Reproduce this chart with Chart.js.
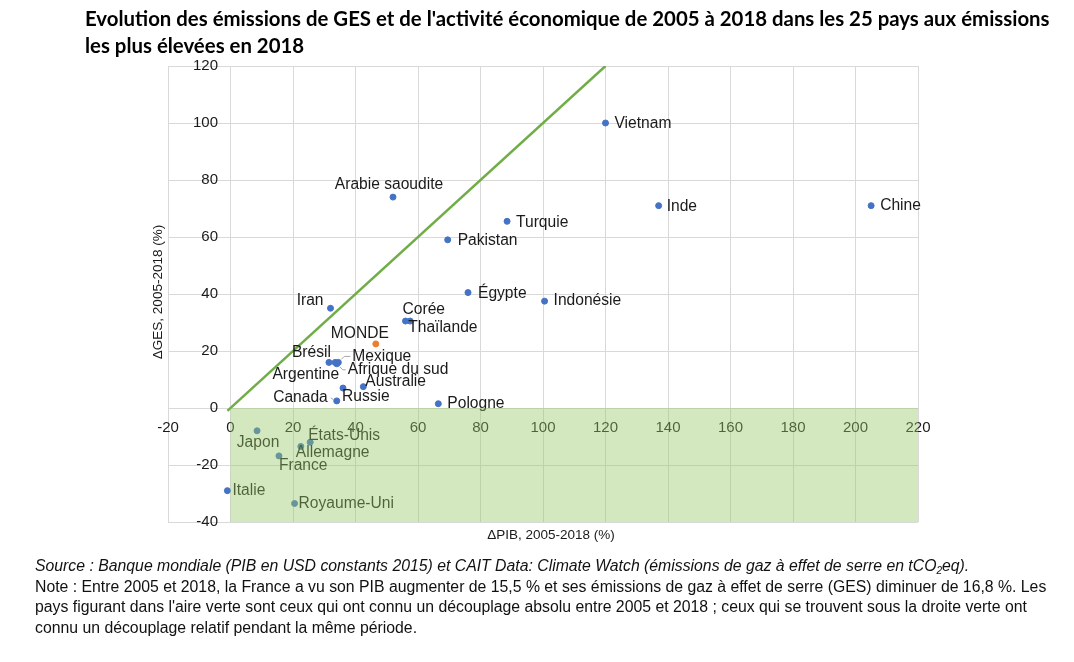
<!DOCTYPE html>
<html lang="fr">
<head>
<meta charset="utf-8">
<title>Emissions de GES et PIB 2005-2018</title>
<script src="https://cdn.jsdelivr.net/npm/chart.js@4.4.1/dist/chart.umd.min.js"></script>
<style>
  body { margin: 0; background: #fff; }
  #wrap { position: relative; width: 1074px; height: 662px; overflow: hidden; }
  #chart { position: absolute; left: 0; top: 0; }
  .title {
    position: absolute; left: 85px; top: 5px;
    font: 700 18px Lato, 'Open Sans', sans-serif; line-height: 27px;
    color: #000; white-space: nowrap;
  }
  .note {
    position: absolute; left: 35px; top: 556px;
    font: 15.8px 'Liberation Sans', Arial, sans-serif; line-height: 20.5px;
    color: #111; white-space: nowrap;
  }
  .note sub { font-size: 10px; line-height: 0; vertical-align: -3px; }
</style>
</head>
<body>
<div id="wrap">
  <canvas id="chart" width="1074" height="662"></canvas>
  <div class="title" id="title"><span id="title-line">Evolution des émissions de GES et de l'activité économique de 2005 à 2018 dans les 25 pays aux émissions</span><br>les plus élevées en 2018</div>
  <div class="note">
    <i>Source : Banque mondiale (PIB en USD constants 2015) et CAIT Data: Climate Watch (émissions de gaz à effet de serre en tCO<sub>2</sub>eq).</i><br>
    Note : Entre 2005 et 2018, la France a vu son PIB augmenter de 15,5 % et ses émissions de gaz à effet de serre (GES) diminuer de 16,8 %. Les<br>
    pays figurant dans l'aire verte sont ceux qui ont connu un découplage absolu entre 2005 et 2018 ; ceux qui se trouvent sous la droite verte ont<br>
    connu un découplage relatif pendant la même période.
  </div>
</div>
<script>
// Data: variation 2005-2018 (%)
const countries = [
    'Vietnam', 'Inde', 'Chine', 'Arabie saoudite', 'Turquie', 'Pakistan', 'Égypte',
    'Indonésie', 'Iran', 'Corée', 'Thaïlande', 'Brésil', 'Argentine', 'Mexique',
    'Afrique du sud', 'Australie', 'Russie', 'Canada', 'Pologne', 'Japon',
    'États-Unis', 'Allemagne', 'France', 'Italie', 'Royaume-Uni'
];
const pibChange = [
    120, 137, 205, 52, 88.5, 69.5, 76,
    100.5, 32, 56, 57.5, 31.5, 33.5, 34.5,
    34, 42.5, 36, 34, 66.5, 8.5,
    25.5, 22.5, 15.5, -1, 20.5
];
const gesChange = [
    100, 71, 71, 74, 65.5, 59, 40.5,
    37.5, 35, 30.5, 30.5, 16, 16, 16,
    15.5, 7.5, 7, 2.5, 1.5, -8,
    -12, -13.5, -16.8, -29, -33.5
];
const worldLabel = ['MONDE'];
const worldPib = [46.5];
const worldGes = [22.5];

// Axes and reference shapes
const xRange = [-20, 220];
const yRange = [-40, 120];
const tickStep = 20;
const diagonalPib = [-1, 120];   // droite y = x
const diagonalGes = [-1, 120];
const absoluteZonePib = [0, 220]; // aire verte : découplage absolu
const absoluteZoneGes = [-40, 0];

// Label placement: [dx, dy, align, leader]
const labelPlacement = {
    'Vietnam': [9, 1, 'left'],
    'Inde': [8, 1, 'left'],
    'Chine': [9, 0, 'left'],
    'Arabie saoudite': [-4, -12, 'center'],
    'Turquie': [9, 1, 'left'],
    'Pakistan': [10, 1, 'left'],
    'Égypte': [10, 1, 'left'],
    'Indonésie': [9, 0, 'left'],
    'Iran': [-7, -8, 'right'],
    'Corée': [-3, -11, 'left'],
    'Thaïlande': [-2, 7, 'left'],
    'MONDE': [-16, -10, 'center'],
    'Brésil': [2, -10, 'right'],
    'Argentine': [4, 12, 'right'],
    'Mexique': [14, -6, 'left', 'up'],
    'Afrique du sud': [11, 6, 'left', 'down'],
    'Australie': [2, -5, 'left'],
    'Russie': [-1, 9, 'left'],
    'Canada': [-9, -3, 'right', 'side'],
    'Pologne': [9, 0, 'left'],
    'Japon': [1, 12, 'center'],
    'États-Unis': [-2, -7, 'left'],
    'Allemagne': [-5, 6, 'left'],
    'France': [0, 10, 'left'],
    'Italie': [5, 0, 'left'],
    'Royaume-Uni': [4, 0, 'left']
};

const FONT = '"Liberation Sans", Arial, sans-serif';

// Country names next to the points
const pointLabels = {
    id: 'pointLabels',
    afterDatasetsDraw(chart) {
        const ctx = chart.ctx;
        ctx.save();
        ctx.font = '15.6px ' + FONT;
        ctx.textBaseline = 'middle';
        chart.data.datasets.forEach((ds, di) => {
            if (!ds.named) return;
            chart.getDatasetMeta(di).data.forEach((pt, i) => {
                const name = ds.data[i].name;
                const place = labelPlacement[name] || [8, 0, 'left'];
                const tx = pt.x + place[0];
                const ty = pt.y + place[1];
                ctx.fillStyle = '#1a1a1a';
                ctx.textAlign = place[2];
                ctx.fillText(name, tx, ty);

                if (place[3]) {
                    ctx.strokeStyle = '#a6a6a6';
                    ctx.lineWidth = 1;
                    ctx.beginPath();
                    if (place[3] === 'up') {
                        ctx.moveTo(pt.x + 3, pt.y - 3);
                        ctx.lineTo(pt.x + 6, pt.y - 6);
                        ctx.lineTo(tx - 2, ty);
                    } else if (place[3] === 'down') {
                        ctx.moveTo(pt.x + 3, pt.y + 3);
                        ctx.lineTo(pt.x + 6, pt.y + 6);
                        ctx.lineTo(tx - 2, ty);
                    } else {
                        ctx.moveTo(tx + 3, ty);
                        ctx.lineTo(pt.x - 3, pt.y - 1);
                    }
                    ctx.stroke();
                }
            });
        });
        ctx.restore();
    }
};

// Axis titles
const axisTitles = {
    id: 'axisTitles',
    afterDraw(chart) {
        const {ctx, chartArea} = chart;
        ctx.save();
        ctx.font = '13.5px ' + FONT;
        ctx.fillStyle = '#1a1a1a';
        ctx.textAlign = 'center';
        ctx.textBaseline = 'middle';
        ctx.fillText('ΔPIB, 2005-2018 (%)', 551, chartArea.bottom + 13);
        ctx.translate(chartArea.left - 10, (chartArea.top + chartArea.bottom) / 2 - 2);
        ctx.rotate(-Math.PI / 2);
        ctx.fillText('ΔGES, 2005-2018 (%)', 0, 0);
        ctx.restore();
    }
};

// Green area (absolute decoupling), drawn over everything like the original
const decouplingArea = {
    id: 'decouplingArea',
    afterDraw(chart) {
        const {ctx, scales: {x, y}} = chart;
        const left = x.getPixelForValue(absoluteZonePib[0]);
        const right = x.getPixelForValue(absoluteZonePib[1]);
        const top = y.getPixelForValue(absoluteZoneGes[1]);
        const bottom = y.getPixelForValue(absoluteZoneGes[0]);
        ctx.save();
        ctx.fillStyle = 'rgba(150, 200, 100, 0.42)';
        ctx.fillRect(left, top, right - left, bottom - top);
        ctx.restore();
    }
};

// Stretch the title so its first line spans the same width as the original
function fitTitle() {
    const title = document.getElementById('title');
    const line = document.getElementById('title-line');
    const target = 965;
    const size = parseFloat(getComputedStyle(title).fontSize);
    title.style.fontSize = (size * target / line.offsetWidth).toFixed(2) + 'px';
}

function initChart() {
    const ctx = document.getElementById('chart');

    new Chart(ctx, {
        type: 'scatter',
        data: {
            datasets: [
                {
                    label: 'Pays',
                    named: true,
                    data: countries.map((c, i) => ({x: pibChange[i], y: gesChange[i], name: c})),
                    backgroundColor: '#4472c4',
                    borderColor: '#4472c4',
                    pointRadius: 3,
                    pointHoverRadius: 3
                },
                {
                    label: 'Monde',
                    named: true,
                    data: worldLabel.map((c, i) => ({x: worldPib[i], y: worldGes[i], name: c})),
                    backgroundColor: '#ed7d31',
                    borderColor: '#ed7d31',
                    pointRadius: 3,
                    pointHoverRadius: 3
                },
                {
                    label: 'y = x',
                    type: 'line',
                    data: diagonalPib.map((v, i) => ({x: v, y: diagonalGes[i]})),
                    borderColor: '#70ad47',
                    borderWidth: 2.5,
                    pointRadius: 0,
                    fill: false
                }
            ]
        },
        options: {
            responsive: false,
            animation: false,
            devicePixelRatio: 1,
            layout: {
                padding: {left: 168, top: 66, right: 156, bottom: 140}
            },
            plugins: {
                legend: {display: false},
                tooltip: {enabled: false}
            },
            scales: {
                x: {
                    type: 'linear',
                    min: xRange[0],
                    max: xRange[1],
                    position: {y: 0},
                    afterFit: (scale) => { scale.height = 0; },
                    ticks: {
                        stepSize: tickStep,
                        padding: 11,
                        color: '#1a1a1a',
                        font: {family: FONT, size: 15}
                    },
                    grid: {color: '#d9d9d9', drawTicks: false},
                    border: {display: false}
                },
                y: {
                    type: 'linear',
                    min: yRange[0],
                    max: yRange[1],
                    position: {x: 0},
                    afterFit: (scale) => { scale.width = 0; },
                    ticks: {
                        stepSize: tickStep,
                        padding: 0,
                        color: '#1a1a1a',
                        font: {family: FONT, size: 15},
                        callback: (v) => v + '   '
                    },
                    grid: {color: '#d9d9d9', drawTicks: false},
                    border: {display: false}
                }
            }
        },
        plugins: [pointLabels, axisTitles, decouplingArea]
    });
}

document.addEventListener('DOMContentLoaded', () => {
    fitTitle();
    initChart();
});
</script>
</body>
</html>
